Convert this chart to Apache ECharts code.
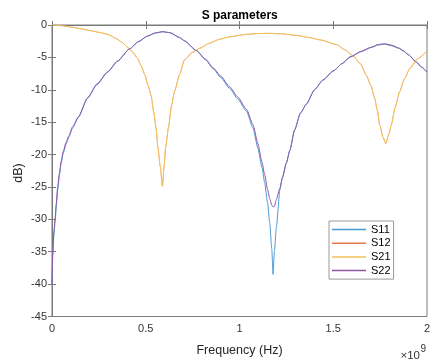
<!DOCTYPE html>
<html>
<head>
<meta charset="utf-8">
<script src="https://cdn.jsdelivr.net/npm/echarts@6/dist/echarts.min.js"></script>
<style>
  html, body { margin: 0; padding: 0; background: #fff; }
  #chart { width: 434px; height: 362px; }
</style>
</head>
<body>
<div id="chart"></div>
<script>
// frequency points (units of 1e9 Hz)
const freqS11 = [0, 0.004, 0.01, 0.016, 0.023, 0.03, 0.04, 0.048, 0.06, 0.075, 0.09, 0.11, 0.14, 0.19, 0.24, 0.297, 0.35, 0.413, 0.46, 0.51, 0.55, 0.59, 0.63, 0.68, 0.706, 0.77, 0.82, 0.859, 0.9, 0.948, 0.99, 1.037, 1.072, 1.098, 1.12, 1.134, 1.15, 1.161, 1.172, 1.179, 1.186, 1.197, 1.215, 1.229, 1.25, 1.268, 1.294, 1.325, 1.357, 1.4, 1.445, 1.5, 1.55, 1.588, 1.65, 1.7, 1.74, 1.774, 1.81, 1.85, 1.872, 1.9, 1.943, 1.97, 2.0];
const s11Db = [-40, -35.6, -32.5, -30.6, -28, -25.5, -23.2, -21.5, -19.8, -18.4, -17.3, -15.9, -14.3, -11.3, -9.2, -7.27, -5.6, -3.72, -2.6, -1.7, -1.25, -1.05, -1.2, -1.95, -2.46, -3.98, -5.4, -6.76, -8.1, -9.8, -11.4, -13.3, -15.9, -19.0, -22.0, -24.3, -27.5, -30.5, -34.5, -38.5, -35, -31.1, -25.5, -23.6, -21.3, -19.4, -16.2, -13.6, -12.2, -10.0, -8.5, -7.1, -5.9, -4.98, -4.1, -3.5, -3.1, -2.96, -3.2, -3.6, -3.98, -4.6, -5.75, -6.5, -7.3];
const s22Db = [-40, -35.0, -31.9, -30.0, -27.5, -25.0, -22.8, -21.1, -19.5, -18.1, -17.1, -15.7, -14.2, -11.2, -9.1, -7.2, -5.55, -3.7, -2.58, -1.68, -1.23, -1.03, -1.18, -1.92, -2.42, -3.92, -5.3, -6.6, -7.9, -9.55, -11.1, -13.0, -15.4, -18.3, -21.2, -23.1, -25.4, -26.8, -27.8, -28.1, -28.0, -26.9, -25.2, -23.5, -21.3, -19.4, -16.2, -13.6, -12.2, -10.0, -8.5, -7.1, -5.9, -4.95, -4.05, -3.45, -3.0, -2.9, -3.1, -3.55, -3.95, -4.55, -5.7, -6.45, -7.25];

const freqS21 = [0, 0.05, 0.1, 0.155, 0.2, 0.254, 0.297, 0.343, 0.375, 0.404, 0.431, 0.455, 0.475, 0.495, 0.511, 0.528, 0.543, 0.555, 0.565, 0.577, 0.589, 0.598, 0.606, 0.621, 0.637, 0.653, 0.681, 0.706, 0.75, 0.788, 0.84, 0.894, 0.95, 1.037, 1.1, 1.161, 1.22, 1.303, 1.374, 1.43, 1.517, 1.56, 1.605, 1.645, 1.677, 1.7, 1.721, 1.735, 1.748, 1.765, 1.78, 1.795, 1.81, 1.83, 1.854, 1.88, 1.908, 1.95, 2.0];
const s21Db = [0, -0.1, -0.3, -0.58, -0.85, -1.15, -1.44, -2.1, -2.7, -3.47, -4.2, -5.1, -6.26, -7.7, -9.2, -10.8, -13.5, -15.9, -18.9, -21.8, -24.9, -21.8, -18.9, -15.9, -12.5, -10.3, -7.6, -5.4, -4.2, -3.6, -2.8, -2.2, -1.8, -1.44, -1.32, -1.29, -1.35, -1.6, -1.95, -2.3, -3.0, -3.8, -4.74, -6.0, -7.78, -9.3, -11.3, -13.2, -15.4, -17.3, -18.3, -17.0, -15.4, -12.7, -10.3, -8.3, -6.76, -5.2, -4.0];
// reciprocal network: S12 lies under S21
const s12Db = [0, -0.1, -0.3, -0.58, -0.85, -1.15, -1.44, -2.1, -2.7, -3.47, -4.2, -5.1, -6.26, -7.7, -9.2, -10.8, -13.5, -15.9, -18.9, -21.8, -24.9, -21.8, -18.9, -15.9, -12.5, -10.3, -7.6, -5.4, -4.2, -3.6, -2.8, -2.2, -1.8, -1.44, -1.32, -1.29, -1.35, -1.6, -1.95, -2.3, -3.0, -3.8, -4.74, -6.0, -7.78, -9.3, -11.3, -13.2, -15.4, -17.3, -18.3, -17.0, -15.4, -12.7, -10.3, -8.3, -6.76, -5.2, -4.0];

const seriesNames = ['S11', 'S12', 'S21', 'S22'];
const xTicks = [0, 0.5, 1, 1.5, 2];

const FONT = '"Liberation Sans", Arial, sans-serif';
const AXIS_GRAY = '#7a7a7a';
const colors = ['#4a9ad6', '#e57a4c', '#f2c25a', '#9156a3'];

const pairs = (xs, ys) => xs.map((x, i) => [x, ys[i]]);

const chart = echarts.init(document.getElementById('chart'), null, { renderer: 'canvas' });

const lineSeries = (name, xs, ys, color, width) => ({
  name,
  type: 'line',
  xAxisIndex: 0,
  yAxisIndex: 0,
  data: pairs(xs, ys),
  symbol: 'none',
  showSymbol: false,
  smooth: 0.2,
  smoothMonotone: 'x',
  lineStyle: { width, color },
  itemStyle: { color },
  emphasis: { disabled: true },
});

const tick = { show: true, inside: true, length: 4, lineStyle: { color: AXIS_GRAY } };
const axisLine = { show: true, lineStyle: { color: AXIS_GRAY, width: 1 } };

const option = {
  animation: false,
  color: colors,
  grid: { left: 52, right: 7, top: 25, bottom: 41, containLabel: false,
    show: true, borderColor: AXIS_GRAY, borderWidth: 1, backgroundColor: 'transparent' },
  xAxis: [
    {
      type: 'value',
      position: 'bottom',
      min: 0, max: 2, interval: 0.5,
      name: 'Frequency (Hz)',
      nameLocation: 'middle',
      nameGap: 27.5,
      nameTextStyle: { fontFamily: FONT, fontSize: 12.5, color: '#262626' },
      axisLine,
      axisTick: tick,
      axisLabel: {
        fontFamily: FONT, fontSize: 11, color: '#333', margin: 7,
        formatter: v => (xTicks.includes(v) ? String(v) : ''),
      },
      splitLine: { show: false },
    },
    {
      type: 'value',
      position: 'top',
      min: 0, max: 2, interval: 0.5,
      axisLine,
      axisTick: tick,
      axisLabel: { show: false },
      splitLine: { show: false },
    },
  ],
  yAxis: [
    {
      type: 'value',
      position: 'left',
      min: -45, max: 0, interval: 5,
      axisLine,
      axisTick: tick,
      axisLabel: { fontFamily: FONT, fontSize: 11, color: '#333', margin: 5 },
      splitLine: { show: false },
    },
    {
      type: 'value',
      position: 'right',
      min: -45, max: 0, interval: 5,
      axisLine,
      axisTick: tick,
      axisLabel: { show: false },
      splitLine: { show: false },
    },
  ],
  legend: {
    data: seriesNames.map(name => ({ name, icon: 'rect' })),
    orient: 'vertical',
    left: 329,
    top: 221,
    itemWidth: 34,
    itemHeight: 1.5,
    itemGap: 0.7,
    itemTextGap: 3,
    padding: [2, 3, 2, 3],
    borderColor: '#999',
    borderWidth: 1,
    borderRadius: 0,
    backgroundColor: '#fff',
    selectedMode: false,
    textStyle: { fontFamily: FONT, fontSize: 11, color: '#000', lineHeight: 13 },
  },
  graphic: [
    {
      type: 'text',
      x: 239.7, y: 16,
      style: { text: 'S parameters', textAlign: 'center', textVerticalAlign: 'middle',
        fontFamily: FONT, fontSize: 12, fontWeight: 'bold', fill: '#000' },
    },
    {
      // y axis title (truncated as in the original figure)
      type: 'text',
      x: 18.5, y: 173,
      rotation: Math.PI / 2,
      style: { text: 'dB)', textAlign: 'center', textVerticalAlign: 'middle',
        fontFamily: FONT, fontSize: 12.5, fill: '#262626' },
    },
    {
      type: 'text',
      x: 420, y: 355.5,
      style: { text: '×10', textAlign: 'right', textVerticalAlign: 'middle',
        fontFamily: FONT, fontSize: 11.5, fill: '#333' },
    },
    {
      type: 'text',
      x: 420.5, y: 349.5,
      style: { text: '9', textAlign: 'left', textVerticalAlign: 'middle',
        fontFamily: FONT, fontSize: 10, fill: '#333' },
    },
  ],
  series: [
    lineSeries('S11', freqS11, s11Db, colors[0], 1),
    lineSeries('S12', freqS21, s12Db, colors[1], 0.6),
    lineSeries('S21', freqS21, s21Db, colors[2], 1),
    lineSeries('S22', freqS11, s22Db, colors[3], 1),
  ],
};

chart.setOption(option);
</script>
</body>
</html>
